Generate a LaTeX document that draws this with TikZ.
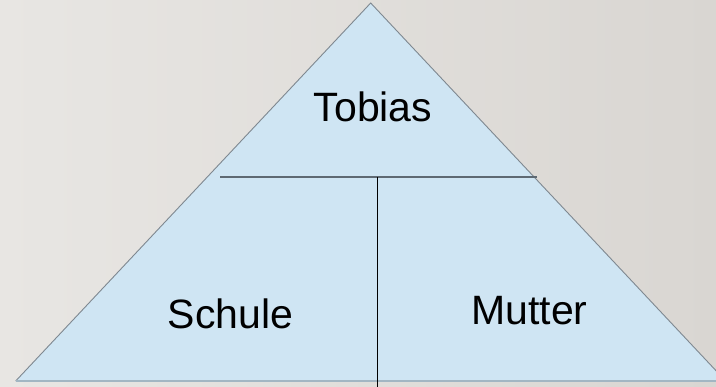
\documentclass[tikz,border=0pt]{standalone}
\usepackage{fontspec}
\setmainfont{Liberation Sans}
\definecolor{bgL}{HTML}{E8E6E3}
\definecolor{bgR}{HTML}{D9D6D2}
\definecolor{trifill}{HTML}{CFE5F3}
\definecolor{triedge}{HTML}{7F8890}
\definecolor{baseedge}{HTML}{A2B6C3}
\definecolor{hline}{HTML}{5E6972}
\begin{document}
\begin{tikzpicture}[x=1pt,y=-1pt,
  lbl/.style={anchor=base,inner sep=0pt,font=\fontsize{41}{41}\selectfont,text=black}]
\useasboundingbox (0,0) rectangle (716,387);
\shade[left color=bgL,right color=bgR] (0,0) rectangle (716,387);
\coordinate (apex) at (370.7,3);
\coordinate (bl) at (15.7,381);
\coordinate (br) at (725.7,381);
\begin{scope}
\clip (0,0) rectangle (716,387);
\fill[trifill] (apex) -- (br) -- (bl) -- cycle;
\draw[triedge,line width=0.9pt] (bl) -- (apex) -- (br);
\draw[baseedge,line width=1.6pt] (bl) -- (br);
\end{scope}
\coordinate (hl) at (220,177);
\coordinate (hr) at (536.7,177);
\coordinate (vtop) at (377.3,177);
\coordinate (vbot) at (377.3,387);
\draw[hline,line width=1.8pt] (hl) -- (hr);
\draw[black,line width=1pt] (vtop) -- (vbot);
\node[lbl] (tobias) at (373,122) {Tobias};
\node[lbl] (schule) at (230.5,329) {Schule};
\node[lbl] (mutter) at (529.5,325) {Mutter};
\end{tikzpicture}
\end{document}
